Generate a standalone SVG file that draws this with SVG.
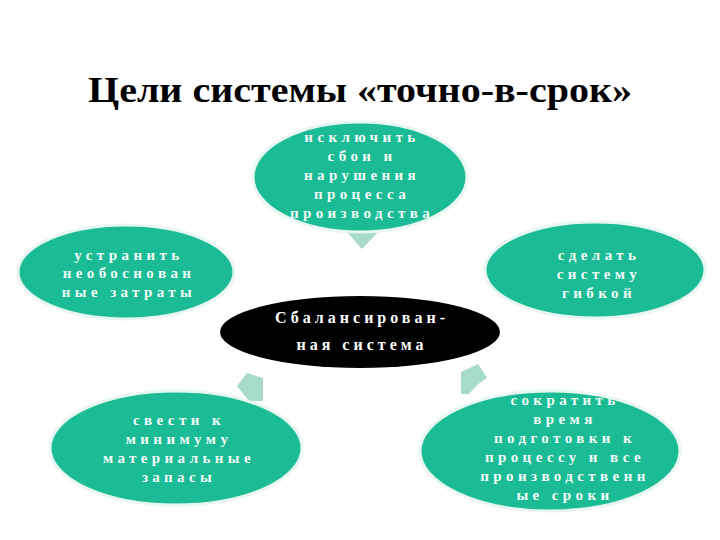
<svg xmlns="http://www.w3.org/2000/svg" width="720" height="540" viewBox="0 0 720 540">
<style>
.node{fill:#1bbb95;stroke:#e6f6f0;stroke-width:3}
.t{font-family:"Liberation Serif","Times New Roman",serif;font-weight:bold;font-size:15px;letter-spacing:4.4px;fill:#f2fbf7;text-anchor:middle}
.arr{fill:#a6dcc8}
.title{font-family:"Liberation Serif","Times New Roman",serif;font-weight:bold;font-size:35px;fill:#000;text-anchor:middle}
</style>
<rect width="720" height="540" fill="#ffffff"/>
<text class="title" x="360" y="102" textLength="544" lengthAdjust="spacingAndGlyphs">Цели системы «точно-в-срок»</text>
<g id="connectors">
<polygon class="arr" points="347,232 378,232 362,249"/>
<polygon class="arr" points="247,373 263,378 263,401 249,401 237,386"/>
<polygon class="arr" points="461,372 478,364 487,378 477,385 469,394 461,394"/>
</g>
<g id="node-top">
<ellipse class="node" cx="360" cy="177" rx="107" ry="55"/>
<text class="t"><tspan x="362" y="142">исключить</tspan><tspan x="362" y="161">сбои и</tspan><tspan x="362" y="180">нарушения</tspan><tspan x="362" y="199">процесса</tspan><tspan x="362" y="218">производства</tspan></text>
</g>
<g id="node-left">
<ellipse class="node" cx="126" cy="272" rx="108" ry="47"/>
<text class="t"><tspan x="129" y="260">устранить</tspan><tspan x="129" y="278">необоснован</tspan><tspan x="129" y="297">ные затраты</tspan></text>
</g>
<g id="node-right">
<ellipse class="node" cx="595" cy="270" rx="110" ry="48"/>
<text class="t"><tspan x="599" y="260">сделать</tspan><tspan x="599" y="279">систему</tspan><tspan x="599" y="298">гибкой</tspan></text>
</g>
<g id="node-center">
<ellipse cx="360" cy="332" rx="140" ry="36" fill="#000000"/>
<text class="t" style="font-size:16px;letter-spacing:4px;fill:#ffffff"><tspan x="362" y="323">Сбалансирован-</tspan><tspan x="362" y="350">ная система</tspan></text>
</g>
<g id="node-bottom-left">
<ellipse class="node" cx="176" cy="448" rx="126" ry="57"/>
<text class="t"><tspan x="179" y="425">свести к</tspan><tspan x="179" y="444">минимуму</tspan><tspan x="179" y="463">материальные</tspan><tspan x="179" y="482">запасы</tspan></text>
</g>
<g id="node-bottom-right">
<ellipse class="node" cx="550" cy="451" rx="130" ry="60"/>
<text class="t"><tspan x="565" y="405">сократить</tspan><tspan x="565" y="424">время</tspan><tspan x="565" y="443">подготовки к</tspan><tspan x="565" y="462">процессу и все</tspan><tspan x="565" y="481">производственн</tspan><tspan x="565" y="500">ые сроки</tspan></text>
</g>
</svg>
